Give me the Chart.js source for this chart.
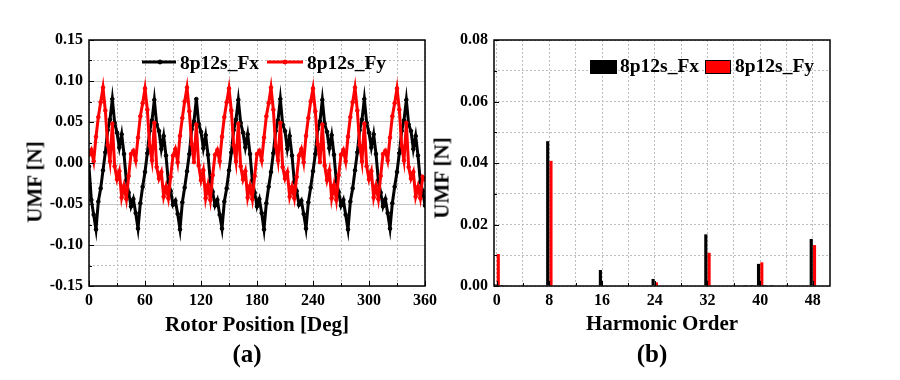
<!DOCTYPE html>
<html>
<head>
<meta charset="utf-8">
<script src="https://cdn.jsdelivr.net/npm/chart.js@4.4.1/dist/chart.umd.min.js"></script>
<style>
  body { margin: 0; background: #fff; }
  #wrap { position: relative; width: 900px; height: 380px; overflow: hidden;
          font-family: 'Liberation Serif', 'Times New Roman', serif; font-weight: bold; color: #000; }
  canvas { position: absolute; top: 0; }
  .lbl { position: absolute; white-space: nowrap; line-height: 1; transform: translate(-50%, -50%); }
  .rot { transform: translate(-50%, -50%) rotate(-90deg); }
  .leg { position: absolute; white-space: nowrap; line-height: 1; font-size: 19.5px; transform: translateY(-50%); }
  .legline { position: absolute; height: 3px; transform: translateY(-50%); }
  .legdot { position: absolute; width: 3px; height: 3px; border-radius: 50%; border: 1.5px solid; transform: translate(-50%, -50%); }
  .legbox { position: absolute; box-sizing: border-box; border: 1px solid #000; }
</style>
</head>
<body>
<div id="wrap">
  <canvas id="chartA" width="450" height="380" style="left:0"></canvas>
  <canvas id="chartB" width="450" height="380" style="left:450px"></canvas>

  <div class="lbl rot" style="left:35px; top:182px; font-size:21px;">UMF [N]</div>
  <div class="lbl" style="left:257px; top:324px; font-size:21px;">Rotor Position [Deg]</div>
  <div class="lbl" style="left:247px; top:353px; font-size:25px;">(a)</div>

  <div class="lbl rot" style="left:442px; top:178px; font-size:21px;">UMF [N]</div>
  <div class="lbl" style="left:662px; top:323px; font-size:21px;">Harmonic Order</div>
  <div class="lbl" style="left:652px; top:353px; font-size:25px;">(b)</div>

  <!-- legend (a) -->
  <div class="legline" style="left:142px; top:62px; width:34px; background:#000;"></div>
  <div class="legdot" style="left:160px; top:62px; border-color:#000; background:#000;"></div>
  <div class="leg" style="left:180px; top:63px;">8p12s_Fx</div>
  <div class="legline" style="left:267px; top:62px; width:36px; background:#ff0000;"></div>
  <div class="legdot" style="left:285px; top:62px; border-color:#ff0000; background:#ff0000;"></div>
  <div class="leg" style="left:307px; top:63px;">8p12s_Fy</div>

  <!-- legend (b) -->
  <div class="legbox" style="left:590px; top:60px; width:27px; height:14px; background:#000;"></div>
  <div class="leg" style="left:620px; top:66px;">8p12s_Fx</div>
  <div class="legbox" style="left:705px; top:60px; width:26px; height:14px; background:#ff0000;"></div>
  <div class="leg" style="left:735px; top:66px;">8p12s_Fy</div>
</div>

<script>
// ---- (a) UMF waveform vs rotor position ----
const rotorDeg = [
  0, 2.5, 5, 7.5, 10, 12.5, 15, 17.5, 20, 22.5, 25, 27.5, 30, 32.5, 35, 37.5, 40, 42.5,
  45, 47.5, 50, 52.5, 55, 57.5, 60, 62.5, 65, 67.5, 70, 72.5, 75, 77.5, 80, 82.5, 85, 87.5,
  90, 92.5, 95, 97.5, 100, 102.5, 105, 107.5, 110, 112.5, 115, 117.5, 120, 122.5, 125, 127.5, 130, 132.5,
  135, 137.5, 140, 142.5, 145, 147.5, 150, 152.5, 155, 157.5, 160, 162.5, 165, 167.5, 170, 172.5, 175, 177.5,
  180, 182.5, 185, 187.5, 190, 192.5, 195, 197.5, 200, 202.5, 205, 207.5, 210, 212.5, 215, 217.5, 220, 222.5,
  225, 227.5, 230, 232.5, 235, 237.5, 240, 242.5, 245, 247.5, 250, 252.5, 255, 257.5, 260, 262.5, 265, 267.5,
  270, 272.5, 275, 277.5, 280, 282.5, 285, 287.5, 290, 292.5, 295, 297.5, 300, 302.5, 305, 307.5, 310, 312.5,
  315, 317.5, 320, 322.5, 325, 327.5, 330, 332.5, 335, 337.5, 340, 342.5, 345, 347.5, 350, 352.5, 355, 357.5,
  360
];

const umfFx = [
  -0.004, -0.045, -0.063, -0.081, -0.047, -0.031, -0.009, 0.013, 0.040, 0.053, 0.078, 0.049, 0.037, 0.019, 0.035, 0.011, -0.021, -0.036,
  -0.053, -0.044, -0.061, -0.080, -0.049, -0.029, -0.011, 0.012, 0.039, 0.052, 0.077, 0.047, 0.039, 0.017, 0.033, 0.009, -0.023, -0.034,
  -0.051, -0.046, -0.062, -0.081, -0.048, -0.030, -0.010, 0.011, 0.041, 0.051, 0.078, 0.048, 0.038, 0.018, 0.034, 0.010, -0.022, -0.035,
  -0.052, -0.045, -0.063, -0.080, -0.047, -0.031, -0.009, 0.013, 0.040, 0.053, 0.077, 0.049, 0.037, 0.019, 0.035, 0.011, -0.021, -0.036,
  -0.053, -0.044, -0.061, -0.081, -0.049, -0.029, -0.011, 0.012, 0.039, 0.052, 0.078, 0.047, 0.039, 0.017, 0.033, 0.009, -0.023, -0.034,
  -0.051, -0.046, -0.062, -0.080, -0.048, -0.030, -0.010, 0.011, 0.041, 0.051, 0.077, 0.048, 0.038, 0.018, 0.034, 0.010, -0.022, -0.035,
  -0.052, -0.045, -0.063, -0.081, -0.047, -0.031, -0.009, 0.013, 0.040, 0.053, 0.078, 0.049, 0.037, 0.019, 0.035, 0.011, -0.021, -0.036,
  -0.053, -0.044, -0.061, -0.080, -0.049, -0.029, -0.011, 0.012, 0.039, 0.052, 0.077, 0.047, 0.039, 0.017, 0.033, 0.009, -0.023, -0.034,
  -0.052
];

const umfFy = [
  0.010, 0.016, 0.002, 0.032, 0.056, 0.074, 0.092, 0.064, 0.022, 0.002, 0.048, -0.004, -0.020, -0.010, -0.042, -0.028, -0.044, -0.016,
  0.011, 0.015, 0.003, 0.031, 0.057, 0.073, 0.091, 0.065, 0.021, 0.003, 0.049, -0.005, -0.019, -0.011, -0.041, -0.029, -0.043, -0.017,
  0.009, 0.017, 0.001, 0.033, 0.055, 0.075, 0.092, 0.063, 0.023, 0.001, 0.047, -0.003, -0.021, -0.009, -0.043, -0.027, -0.045, -0.015,
  0.010, 0.016, 0.002, 0.032, 0.056, 0.074, 0.091, 0.064, 0.022, 0.002, 0.048, -0.004, -0.020, -0.010, -0.042, -0.028, -0.044, -0.016,
  0.011, 0.015, 0.003, 0.031, 0.057, 0.073, 0.092, 0.065, 0.021, 0.003, 0.049, -0.005, -0.019, -0.011, -0.041, -0.029, -0.043, -0.017,
  0.009, 0.017, 0.001, 0.033, 0.055, 0.075, 0.091, 0.063, 0.023, 0.001, 0.047, -0.003, -0.021, -0.009, -0.043, -0.027, -0.045, -0.015,
  0.010, 0.016, 0.002, 0.032, 0.056, 0.074, 0.092, 0.064, 0.022, 0.002, 0.048, -0.004, -0.020, -0.010, -0.042, -0.028, -0.044, -0.016,
  0.011, 0.015, 0.003, 0.031, 0.057, 0.073, 0.091, 0.065, 0.021, 0.003, 0.049, -0.005, -0.019, -0.011, -0.041, -0.029, -0.043, -0.017,
  -0.020
];

const degTicks = [0, 30, 60, 90, 120, 150, 180, 210, 240, 270, 300, 330, 360];
const umfTicksA = [-0.15, -0.125, -0.1, -0.075, -0.05, -0.025, 0, 0.025, 0.05, 0.075, 0.1, 0.125, 0.15];

// ---- (b) harmonic spectrum ----
const harmonicOrder = [0, 1, 2, 8, 16, 24, 32, 38, 39, 40, 41, 42, 48];
const harmFx = [0.0005, 0.0003, 0.0002, 0.0471, 0.0052, 0.0023, 0.0168, 0.0003, 0.0003, 0.0072, 0.0003, 0.0003, 0.0153];
const harmFy = [0.0104, 0.0001, 0, 0.0407, 0, 0.0012, 0.0108, 0, 0, 0.0077, 0, 0, 0.0133];

const orderTicks = [0, 4, 8, 12, 16, 20, 24, 28, 32, 36, 40, 44, 48];
const umfTicksB = [0, 0.01, 0.02, 0.03, 0.04, 0.05, 0.06, 0.07, 0.08];

const tickFont = { family: "'Liberation Serif', 'Times New Roman', serif", size: 16, weight: 'bold' };
const near = (v, step) => Math.abs(v / step - Math.round(v / step)) < 1e-6;

// black frame + inward tick marks
const framePlugin = {
  id: 'frame',
  afterDraw(chart, args, opts) {
    const { ctx, chartArea: a, scales } = chart;
    ctx.save();
    ctx.strokeStyle = '#000';
    ctx.lineWidth = 1;
    scales.x.ticks.forEach(t => {
      const px = Math.round(scales.x.getPixelForValue(t.value)) + 0.5;
      const len = opts.xMajor(t.value) ? 5 : 3;
      ctx.beginPath(); ctx.moveTo(px, a.bottom); ctx.lineTo(px, a.bottom - len); ctx.stroke();
    });
    scales.y.ticks.forEach(t => {
      const py = Math.round(scales.y.getPixelForValue(t.value)) + 0.5;
      const len = opts.yMajor(t.value) ? 5 : 3;
      ctx.beginPath(); ctx.moveTo(a.left, py); ctx.lineTo(a.left + len, py); ctx.stroke();
    });
    ctx.lineWidth = 1.5;
    ctx.strokeRect(a.left, a.top, a.right - a.left, a.bottom - a.top);
    ctx.restore();
  }
};

new Chart(document.getElementById('chartA'), {
  type: 'line',
  data: {
    datasets: [
      {
        label: '8p12s_Fx',
        data: rotorDeg.map((d, i) => ({ x: d, y: umfFx[i] })),
        borderColor: '#000000',
        borderWidth: 3,
        pointRadius: 1.8,
        pointBorderWidth: 1,
        pointBackgroundColor: '#000000',
        pointBorderColor: '#000000',
        tension: 0,
        order: 1
      },
      {
        label: '8p12s_Fy',
        data: rotorDeg.map((d, i) => ({ x: d, y: umfFy[i] })),
        borderColor: '#ff0000',
        borderWidth: 3,
        pointRadius: 1.8,
        pointBorderWidth: 1,
        pointBackgroundColor: '#ff0000',
        pointBorderColor: '#ff0000',
        tension: 0,
        order: 0
      }
    ]
  },
  options: {
    responsive: false,
    animation: false,
    layout: { padding: { left: 0, right: 25, top: 40, bottom: 0 } },
    plugins: {
      legend: { display: false },
      tooltip: { enabled: false },
      frame: { xMajor: v => near(v, 60), yMajor: v => near(v, 0.05) }
    },
    scales: {
      x: {
        type: 'linear',
        min: 0,
        max: 360,
        afterBuildTicks: s => { s.ticks = degTicks.map(v => ({ value: v })); },
        afterFit: s => { s.height = 94; },
        ticks: {
          font: tickFont, color: '#000', padding: 5, maxRotation: 0, autoSkip: false,
          callback: v => near(v, 60) ? String(v) : ''
        },
        grid: { color: '#bdbdbd', lineWidth: 1, drawTicks: false },
        border: { display: false, dash: [2, 2] }
      },
      y: {
        min: -0.15,
        max: 0.15,
        afterBuildTicks: s => { s.ticks = umfTicksA.map(v => ({ value: v })); },
        afterFit: s => { s.width = 89; },
        ticks: {
          font: tickFont, color: '#000', padding: 6, autoSkip: false,
          callback: v => near(v, 0.05) ? v.toFixed(2) : ''
        },
        grid: { color: ctx => near(ctx.tick.value, 0.05) ? '#c4c4c4' : '#bdbdbd', lineWidth: 1, drawTicks: false },
        border: { display: false, dash: ctx => near(ctx.tick.value, 0.05) ? [] : [2, 2] }
      }
    }
  },
  plugins: [framePlugin]
});

new Chart(document.getElementById('chartB'), {
  type: 'bar',
  data: {
    datasets: [
      {
        label: '8p12s_Fx',
        data: harmonicOrder.map((h, i) => ({ x: h, y: harmFx[i] })),
        backgroundColor: '#000000',
        borderWidth: 0
      },
      {
        label: '8p12s_Fy',
        data: harmonicOrder.map((h, i) => ({ x: h, y: harmFy[i] })),
        backgroundColor: '#ff0000',
        borderWidth: 0
      }
    ]
  },
  options: {
    responsive: false,
    animation: false,
    categoryPercentage: 1.0,
    barPercentage: 0.95,
    layout: { padding: { left: 0, right: 70, top: 40, bottom: 0 } },
    plugins: {
      legend: { display: false },
      tooltip: { enabled: false },
      frame: { xMajor: v => near(v, 8), yMajor: v => near(v, 0.02) }
    },
    scales: {
      x: {
        type: 'linear',
        min: -0.4,
        max: 50.6,
        offset: false,
        afterBuildTicks: s => { s.ticks = orderTicks.map(v => ({ value: v })); },
        afterFit: s => { s.height = 94; },
        ticks: {
          font: tickFont, color: '#000', padding: 5, maxRotation: 0, autoSkip: false,
          callback: v => near(v, 8) ? String(v) : ''
        },
        grid: { offset: false, color: '#bdbdbd', lineWidth: 1, drawTicks: false },
        border: { display: false, dash: [2, 2] }
      },
      y: {
        min: 0,
        max: 0.08,
        afterBuildTicks: s => { s.ticks = umfTicksB.map(v => ({ value: v })); },
        afterFit: s => { s.width = 44; },
        ticks: {
          font: tickFont, color: '#000', padding: 6, autoSkip: false,
          callback: v => near(v, 0.02) ? v.toFixed(2) : ''
        },
        grid: { color: '#bdbdbd', lineWidth: 1, drawTicks: false },
        border: { display: false, dash: [2, 2] }
      }
    }
  },
  plugins: [framePlugin]
});
</script>
</body>
</html>
